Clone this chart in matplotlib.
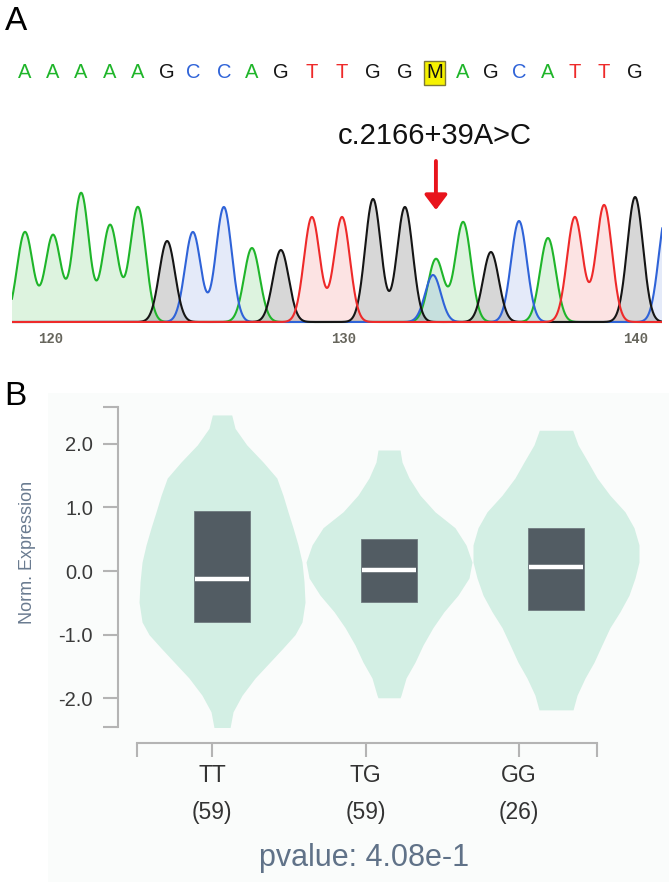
import matplotlib

matplotlib.use("Agg")
import matplotlib.pyplot as plt
import numpy as np
from matplotlib.patches import Rectangle
from matplotlib.transforms import blended_transform_factory

W_PX, H_PX, DPI = 669, 882, 100

# ---- Panel A data: sequencing trace ---------------------------------
BASE_CALLS = list("AAAAAGCCAGTTGGMAGCATTG")
BASE_POS = [119.11, 120.07, 121.03, 122.02, 122.97, 123.97, 124.85, 125.91,
            126.87, 127.86, 128.92, 129.95, 131.01, 132.10, 133.11, 134.09,
            135.04, 136.00, 136.99, 137.91, 138.91, 139.97]
PEAK_POS = [119.11, 120.07, 121.03, 122.02, 122.97, 123.97, 124.85, 125.91,
            126.87, 127.86, 128.92, 129.95, 131.01, 132.10, 133.06, 133.16,
            134.09, 135.04, 136.00, 136.99, 137.91, 138.91, 139.97, 141.05]
PEAK_BASE = ["A", "A", "A", "A", "A", "G", "C", "C", "A", "G", "T", "T", "G",
             "G", "C", "A", "A", "G", "C", "A", "T", "T", "G", "C"]
PEAK_HEIGHT = [90, 87, 129, 97, 115, 81, 90, 115, 74, 72, 105, 105, 123, 115,
               47, 63, 100, 70, 101, 84, 105, 117, 125, 110]
POS_TICKS = [120, 130, 140]
VARIANT_LABEL = "c.2166+39A>C"
VARIANT_POS = 133.16

# ---- Panel B data: violin plot --------------------------------------
GENOTYPES = ["TT", "TG", "GG"]
COUNTS = [59, 59, 26]
PVALUE = "4.08e-1"
TT_Y = [2.45, 2.24, 1.98, 1.71, 1.46, 1.19, 0.93, 0.68, 0.41, 0.14, -0.17,
        -0.49, -0.80, -1.00, -1.21, -1.43, -1.68, -1.95, -2.21, -2.46]
TT_HALF = [0.058, 0.078, 0.148, 0.246, 0.328, 0.365, 0.395, 0.425, 0.455,
           0.479, 0.491, 0.497, 0.479, 0.437, 0.365, 0.287, 0.198, 0.120,
           0.066, 0.048]
TG_Y = [1.90, 1.71, 1.46, 1.19, 0.93, 0.68, 0.41, 0.14, -0.11, -0.38, -0.64,
        -0.89, -1.16, -1.43, -1.68, -1.95, -1.99]
TG_HALF = [0.066, 0.078, 0.120, 0.186, 0.275, 0.395, 0.461, 0.497, 0.479,
           0.413, 0.329, 0.263, 0.204, 0.156, 0.102, 0.072, 0.066]
GG_Y = [2.21, 1.98, 1.71, 1.46, 1.19, 0.93, 0.68, 0.41, 0.14, -0.11, -0.38,
        -0.64, -0.89, -1.16, -1.43, -1.68, -1.95, -2.18]
GG_HALF = [0.100, 0.132, 0.192, 0.246, 0.323, 0.413, 0.467, 0.497, 0.497,
           0.473, 0.437, 0.383, 0.323, 0.275, 0.228, 0.174, 0.126, 0.102]
Q1 = [-0.80, -0.49, -0.61]
MEDIAN = [-0.13, 0.02, 0.06]
Q3 = [0.94, 0.50, 0.68]
Y_TICKS = [2, 1, 0, -1, -2]

# ---- Style ----------------------------------------------------------
BASE_COLOR = {"A": "#1fb52a", "C": "#2f63d8", "G": "#151515", "T": "#ee2a2a",
              "M": "#111111"}
FILL_ALPHA = {"A": 0.15, "C": 0.13, "G": 0.17, "T": 0.13}
SIGMA = 0.27
VIOLIN = "#d3efe4"
BOX = "#525c63"
AXIS_GREY = "#b4b4b4"
SLATE = "#607288"
TEXT = "#333333"

plt.rcParams["font.family"] = ["Liberation Sans", "DejaVu Sans"]


def fx(px):
    return px / W_PX


def fy(py):
    return 1 - py / H_PX


fig = plt.figure(figsize=(W_PX / DPI, H_PX / DPI), dpi=DPI)
fig.patch.set_facecolor("white")

# very light panel background behind B
fig.patches.append(Rectangle((fx(48), 0), 1 - fx(48), fy(393),
                             transform=fig.transFigure, facecolor="#fafcfb",
                             edgecolor="none", zorder=-10))

fig.text(fx(5), fy(6), "A", fontsize=24, va="top", ha="left")
fig.text(fx(4), fy(381), "B", fontsize=24, va="top", ha="left")

# ---- Panel A --------------------------------------------------------
ax1 = fig.add_axes([fx(12), fy(325), fx(662) - fx(12), fy(150) - fy(325)])
ax1.set_xlim(118.667, 140.889)
ax1.set_ylim(-3, 172)
ax1.set_facecolor("none")

xs = np.linspace(118.0, 141.5, 3000)
pos = np.array(PEAK_POS)
hts = np.array(PEAK_HEIGHT, dtype=float)
chans = np.array(PEAK_BASE)
traces = {}
for ch in ["A", "C", "G", "T"]:
    sel = chans == ch
    tr = np.zeros_like(xs)
    for p, h in zip(pos[sel], hts[sel]):
        tr += h * np.exp(-((xs - p) ** 2) / (2 * SIGMA ** 2))
    traces[ch] = tr

for ch in ["A", "C", "G", "T"]:
    ax1.fill_between(xs, 0, traces[ch], color=BASE_COLOR[ch],
                     alpha=FILL_ALPHA[ch], lw=0)
for ch in ["A", "C", "G", "T"]:
    ax1.plot(xs, traces[ch], color=BASE_COLOR[ch], lw=1.5, solid_joinstyle="round")

for sp in ax1.spines.values():
    sp.set_visible(False)
ax1.set_yticks([])
ax1.set_xticks(POS_TICKS)
ax1.set_xticklabels([str(t) for t in POS_TICKS], family="Liberation Mono",
                    fontsize=10, fontweight="bold", color="#66655c")
ax1.tick_params(axis="x", length=0, pad=5)

# base calls row above the trace
tr_row = blended_transform_factory(ax1.transData, fig.transFigure)
for b, p in zip(BASE_CALLS, BASE_POS):
    kw = {}
    if b == "M":
        kw["bbox"] = dict(boxstyle="square,pad=0.12", facecolor="#f6f200",
                          edgecolor="#7d7838", lw=1.0)
    fig.text(p, fy(73), b, transform=tr_row, ha="center", va="center",
             fontsize=14.5, color=BASE_COLOR[b], **kw)

ax1.annotate("", xy=(VARIANT_POS, 112), xytext=(VARIANT_POS, 161),
             arrowprops=dict(arrowstyle="-|>,head_length=0.45,head_width=0.34",
                             color="#e8141c", lw=2.8, mutation_scale=20,
                             shrinkA=0, shrinkB=0))
ax1.text(VARIANT_POS - 0.05, 186, VARIANT_LABEL, ha="center", va="center",
         fontsize=21, color="#111111", clip_on=False)

# ---- Panel B --------------------------------------------------------
ax2 = fig.add_axes([fx(118), fy(727), fx(640) - fx(118), fy(407) - fy(727)])
ax2.set_facecolor("none")
ax2.set_xlim(-0.623, 2.503)
ax2.set_ylim(-2.449, 2.575)

profiles = [(TT_Y, TT_HALF), (TG_Y, TG_HALF), (GG_Y, GG_HALF)]
box_half = 0.168
for i, (vy, vh) in enumerate(profiles):
    vy = np.array(vy)
    vh = np.array(vh)
    ax2.fill_betweenx(vy, i - vh, i + vh, color=VIOLIN, lw=0, zorder=1)
    ax2.add_patch(Rectangle((i - box_half, Q1[i]), 2 * box_half, Q3[i] - Q1[i],
                            facecolor=BOX, edgecolor="#6f797e", lw=0.6, zorder=2))
    ax2.plot([i - box_half + 0.005, i + box_half - 0.005], [MEDIAN[i], MEDIAN[i]],
             color="white", lw=3.2, solid_capstyle="butt", zorder=3)

for name in ["top", "right", "bottom"]:
    ax2.spines[name].set_visible(False)
ax2.spines["left"].set_color(AXIS_GREY)
ax2.spines["left"].set_linewidth(1.5)
ax2.set_xticks([])
ax2.set_yticks(Y_TICKS)
ax2.set_yticklabels([f"{t:.1f}" for t in Y_TICKS], fontsize=14.5,
                    color="#3a3a3a")
ax2.set_yticks([-2.449, 2.575], minor=True)
ax2.tick_params(axis="y", which="both", length=11, width=1.5, color=AXIS_GREY,
                pad=7)

fig.text(fx(28), fy(552), "Norm. Expression", rotation=90, ha="center",
         va="center", fontsize=13, color="#6a7b90")

# separate category axis below the violins
ax3 = fig.add_axes([fx(137), fy(743), fx(597) - fx(137), 0.01])
ax3.set_facecolor("none")
ax3.set_xlim(-0.4886, 2.5081)
ax3.set_ylim(0, 1)
for name in ["top", "right", "left"]:
    ax3.spines[name].set_visible(False)
ax3.spines["bottom"].set_color(AXIS_GREY)
ax3.spines["bottom"].set_linewidth(1.5)
ax3.set_yticks([])
ax3.set_xticks(range(len(GENOTYPES)))
ax3.set_xticklabels(GENOTYPES, fontsize=16.5, color=TEXT)
ax3.set_xticks([-0.4886, 2.5081], minor=True)
ax3.tick_params(axis="x", which="both", length=10, width=1.5, color=AXIS_GREY,
                pad=5)

tr_cnt = blended_transform_factory(ax3.transData, fig.transFigure)
for i, n in enumerate(COUNTS):
    fig.text(i, fy(813), f"({n})", transform=tr_cnt, ha="center", va="center",
             fontsize=16.5, color=TEXT)

fig.text(fx(364), fy(858), f"pvalue: {PVALUE}", ha="center", va="center",
         fontsize=22, color=SLATE)

fig.savefig("out.png", dpi=DPI, facecolor="white")
